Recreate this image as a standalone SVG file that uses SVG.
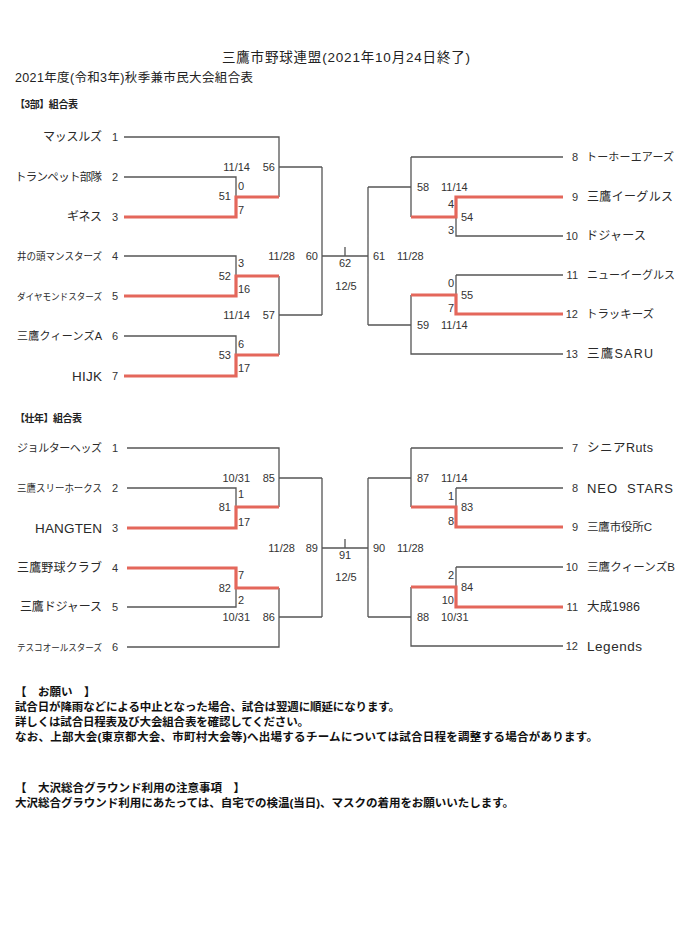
<svg xmlns="http://www.w3.org/2000/svg" width="699" height="928" viewBox="0 0 699 928">
<style>
text{font-family:"Liberation Sans","Noto Sans CJK JP",sans-serif;fill:#333}
.lb{font-size:11px}
.nm{fill:#2a2a2a}
.hd{font-weight:bold;fill:#222}
.note{font-size:11.5px;font-weight:bold;fill:#111}
.ln{stroke:#555;stroke-width:1.3;fill:none}
.rd{stroke:#e4675b;stroke-width:3.2;fill:none;stroke-linejoin:miter}
</style>
<rect width="699" height="928" fill="#fff"/>
<g id="header">
<text x="346" y="62" text-anchor="middle" font-size="13.5" textLength="248" style="fill:#222">三鷹市野球連盟(2021年10月24日終了)</text>
<text x="15" y="82" font-size="12.5" textLength="238" style="fill:#222">2021年度(令和3年)秋季兼市民大会組合表</text>
<text x="15" y="108" font-size="10" class="hd" textLength="63">【3部】組合表</text>
<text x="15" y="422" font-size="10" class="hd" textLength="67">【壮年】組合表</text>
</g>
<g id="connectors">
<path class="ln" d="M124,137H279V197M279,167H322M124,177H236V197M124,256H236V276M279,276V355M279,315H322M124,336H236V355M322,167V315M322,256H368M345,247V256"/>
<path class="ln" d="M368,187V325M368,187H411M411,157V217M411,157H563M456,197V236H563M368,325H411M411,295V354H563M456,275H563M456,275V295"/>
<path class="rd" d="M124,217H236V197H279M124,296H236V276H279M124,376H236V355H279M563,197H456V217H411M563,314H456V295H411"/>
<path class="ln" d="M127,448H279V507M279,478H322M127,488H236V507M236,588V607H127M279,588V647H127M279,617H322M322,478V617M322,548H368M345,539V548"/>
<path class="ln" d="M368,478V617M368,478H411M411,448V507M411,448H563M456,488H563M456,488V507M368,617H411M411,587V646H563M456,567H563M456,567V587"/>
<path class="rd" d="M127,528H236V507H279M127,568H236V588H279M563,527H456V507H411M563,607H456V587H411"/>
</g>
<g id="teams-3bu">
<g id="t3-1"><text class="nm" x="102" y="141" text-anchor="end" font-size="12" textLength="59">マッスルズ</text><text class="lb" x="115" y="141" text-anchor="middle">1</text></g>
<g id="t3-2"><text class="nm" x="102" y="181" text-anchor="end" font-size="11.5" textLength="87">トランペット部隊</text><text class="lb" x="115" y="181" text-anchor="middle">2</text></g>
<g id="t3-3"><text class="nm" x="102" y="221" text-anchor="end" font-size="12" textLength="35">ギネス</text><text class="lb" x="115" y="221" text-anchor="middle">3</text></g>
<g id="t3-4"><text class="nm" x="102" y="260" text-anchor="end" font-size="10" textLength="85" lengthAdjust="spacingAndGlyphs">井の頭マンスターズ</text><text class="lb" x="115" y="260" text-anchor="middle">4</text></g>
<g id="t3-5"><text class="nm" x="102" y="300" text-anchor="end" font-size="9.5" textLength="85" lengthAdjust="spacingAndGlyphs">ダイヤモンドスターズ</text><text class="lb" x="115" y="300" text-anchor="middle">5</text></g>
<g id="t3-6"><text class="nm" x="102" y="340" text-anchor="end" font-size="11" textLength="85">三鷹クィーンズA</text><text class="lb" x="115" y="340" text-anchor="middle">6</text></g>
<g id="t3-7"><text class="nm" x="102" y="381" text-anchor="end" font-size="13.5" textLength="30">HIJK</text><text class="lb" x="115" y="380" text-anchor="middle">7</text></g>
<g id="t3-8"><text class="lb" x="578" y="161" text-anchor="end">8</text><text class="nm" x="586" y="161" font-size="11" textLength="88">トーホーエアーズ</text></g>
<g id="t3-9"><text class="lb" x="578" y="201" text-anchor="end">9</text><text class="nm" x="587" y="201" font-size="12" textLength="86">三鷹イーグルス</text></g>
<g id="t3-10"><text class="lb" x="578" y="240" text-anchor="end">10</text><text class="nm" x="586" y="240" font-size="12" textLength="60">ドジャース</text></g>
<g id="t3-11"><text class="lb" x="578" y="279" text-anchor="end">11</text><text class="nm" x="587" y="279" font-size="11" textLength="88">ニューイーグルス</text></g>
<g id="t3-12"><text class="lb" x="578" y="318" text-anchor="end">12</text><text class="nm" x="586" y="318" font-size="11.5" textLength="68">トラッキーズ</text></g>
<g id="t3-13"><text class="lb" x="578" y="358" text-anchor="end">13</text><text class="nm" x="587" y="358" font-size="12.5" textLength="66">三鷹SARU</text></g>
</g>
<g id="matches-3bu">
<text class="lb" x="250" y="171" text-anchor="end">11/14</text><text class="lb" x="275" y="171" text-anchor="end">56</text>
<text class="lb" x="238" y="190">0</text><text class="lb" x="231" y="200" text-anchor="end">51</text><text class="lb" x="238" y="214">7</text>
<text class="lb" x="238" y="267">3</text><text class="lb" x="231" y="280" text-anchor="end">52</text><text class="lb" x="238" y="293">16</text>
<text class="lb" x="250" y="319" text-anchor="end">11/14</text><text class="lb" x="275" y="319" text-anchor="end">57</text>
<text class="lb" x="238" y="348">6</text><text class="lb" x="231" y="359" text-anchor="end">53</text><text class="lb" x="238" y="372">17</text>
<text class="lb" x="295" y="260" text-anchor="end">11/28</text><text class="lb" x="318" y="260" text-anchor="end">60</text>
<text class="lb" x="345" y="267" text-anchor="middle">62</text><text class="lb" x="346" y="290" text-anchor="middle">12/5</text>
<text class="lb" x="373" y="260">61</text><text class="lb" x="397" y="260">11/28</text>
<text class="lb" x="417" y="191">58</text><text class="lb" x="441" y="191">11/14</text>
<text class="lb" x="454" y="208" text-anchor="end">4</text><text class="lb" x="461" y="221">54</text><text class="lb" x="454" y="234" text-anchor="end">3</text>
<text class="lb" x="454" y="287" text-anchor="end">0</text><text class="lb" x="461" y="299">55</text><text class="lb" x="454" y="312" text-anchor="end">7</text>
<text class="lb" x="417" y="329">59</text><text class="lb" x="441" y="329">11/14</text>
</g>
<g id="teams-sonen">
<g id="ts-1"><text class="nm" x="102" y="452" text-anchor="end" font-size="11" textLength="85">ジョルターヘッズ</text><text class="lb" x="115" y="452" text-anchor="middle">1</text></g>
<g id="ts-2"><text class="nm" x="102" y="492" text-anchor="end" font-size="10" textLength="85" lengthAdjust="spacingAndGlyphs">三鷹スリーホークス</text><text class="lb" x="115" y="492" text-anchor="middle">2</text></g>
<g id="ts-3"><text class="nm" x="102" y="533" text-anchor="end" font-size="13.5" textLength="67">HANGTEN</text><text class="lb" x="115" y="532" text-anchor="middle">3</text></g>
<g id="ts-4"><text class="nm" x="102" y="572" text-anchor="end" font-size="12" textLength="85">三鷹野球クラブ</text><text class="lb" x="115" y="572" text-anchor="middle">4</text></g>
<g id="ts-5"><text class="nm" x="102" y="611" text-anchor="end" font-size="12" textLength="82">三鷹ドジャース</text><text class="lb" x="115" y="611" text-anchor="middle">5</text></g>
<g id="ts-6"><text class="nm" x="102" y="651" text-anchor="end" font-size="9.5" textLength="85" lengthAdjust="spacingAndGlyphs">テスコオールスターズ</text><text class="lb" x="115" y="651" text-anchor="middle">6</text></g>
<g id="ts-7"><text class="lb" x="578" y="452" text-anchor="end">7</text><text class="nm" x="587" y="452" font-size="12.5" textLength="66">シニアRuts</text></g>
<g id="ts-8"><text class="lb" x="578" y="492" text-anchor="end">8</text><text class="nm" x="587" y="493" font-size="13" textLength="86" xml:space="preserve">NEO  STARS</text></g>
<g id="ts-9"><text class="lb" x="578" y="531" text-anchor="end">9</text><text class="nm" x="587" y="531" font-size="11.5" textLength="65">三鷹市役所C</text></g>
<g id="ts-10"><text class="lb" x="578" y="571" text-anchor="end">10</text><text class="nm" x="587" y="571" font-size="11.5" textLength="88">三鷹クィーンズB</text></g>
<g id="ts-11"><text class="lb" x="578" y="611" text-anchor="end">11</text><text class="nm" x="587" y="611" font-size="12.5" textLength="53">大成1986</text></g>
<g id="ts-12"><text class="lb" x="578" y="650" text-anchor="end">12</text><text class="nm" x="587" y="651" font-size="13.5" textLength="55">Legends</text></g>
</g>
<g id="matches-sonen">
<text class="lb" x="250" y="482" text-anchor="end">10/31</text><text class="lb" x="275" y="482" text-anchor="end">85</text>
<text class="lb" x="238" y="498">1</text><text class="lb" x="231" y="511" text-anchor="end">81</text><text class="lb" x="238" y="526">17</text>
<text class="lb" x="238" y="579">7</text><text class="lb" x="231" y="592" text-anchor="end">82</text><text class="lb" x="238" y="604">2</text>
<text class="lb" x="250" y="621" text-anchor="end">10/31</text><text class="lb" x="275" y="621" text-anchor="end">86</text>
<text class="lb" x="295" y="552" text-anchor="end">11/28</text><text class="lb" x="318" y="552" text-anchor="end">89</text>
<text class="lb" x="345" y="559" text-anchor="middle">91</text><text class="lb" x="346" y="581" text-anchor="middle">12/5</text>
<text class="lb" x="373" y="552">90</text><text class="lb" x="397" y="552">11/28</text>
<text class="lb" x="417" y="482">87</text><text class="lb" x="441" y="482">11/14</text>
<text class="lb" x="454" y="500" text-anchor="end">1</text><text class="lb" x="461" y="511">83</text><text class="lb" x="454" y="525" text-anchor="end">8</text>
<text class="lb" x="454" y="579" text-anchor="end">2</text><text class="lb" x="461" y="591">84</text><text class="lb" x="454" y="604" text-anchor="end">10</text>
<text class="lb" x="417" y="621">88</text><text class="lb" x="441" y="621">10/31</text>
</g>
<g id="notes">
<text class="note" x="15" y="696" xml:space="preserve">【　お願い　】</text>
<text class="note" x="15" y="711" textLength="385">試合日が降雨などによる中止となった場合、試合は翌週に順延になります。</text>
<text class="note" x="15" y="726" textLength="294">詳しくは試合日程表及び大会組合表を確認してください。</text>
<text class="note" x="15" y="741" textLength="583">なお、上部大会(東京都大会、市町村大会等)へ出場するチームについては試合日程を調整する場合があります。</text>
<text class="note" x="15" y="792" xml:space="preserve">【　大沢総合グラウンド利用の注意事項　】</text>
<text class="note" x="15" y="807" textLength="499">大沢総合グラウンド利用にあたっては、自宅での検温(当日)、マスクの着用をお願いいたします。</text>
</g>
</svg>
